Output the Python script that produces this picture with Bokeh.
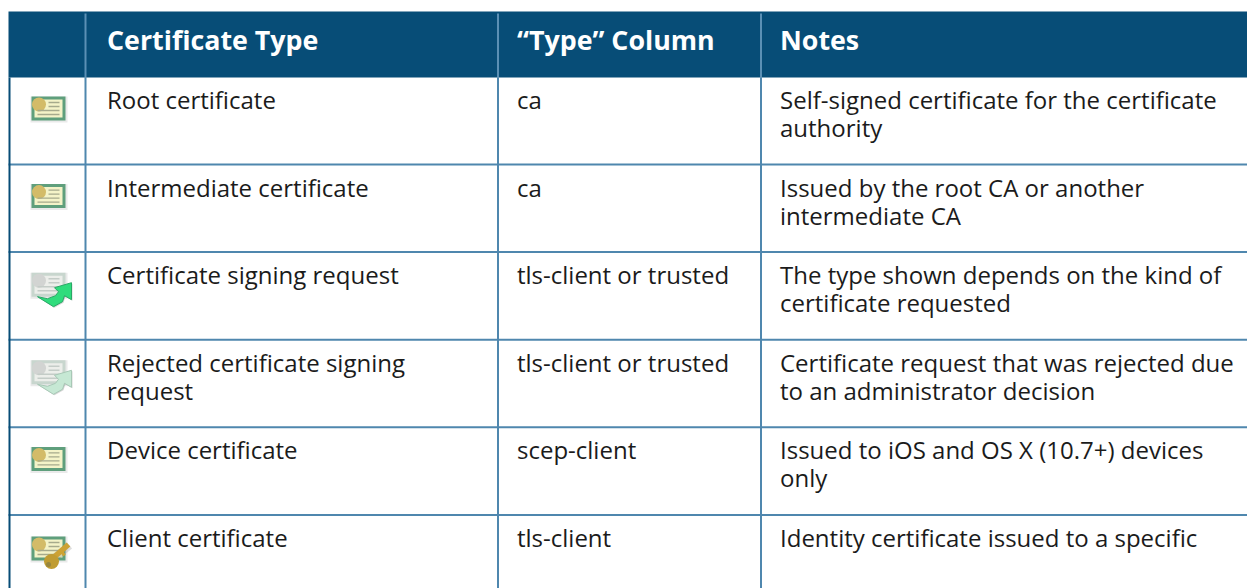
from bokeh.plotting import figure
from bokeh.embed import file_html
from bokeh.resources import INLINE
from bokeh.models import Range1d
from bokeh.core.properties import value

# ---- table content ----
headers = ["Certificate Type", "“Type” Column", "Notes"]
cert_types = [
    ["Root certificate"],
    ["Intermediate certificate"],
    ["Certificate signing request"],
    ["Rejected certificate signing", "request"],
    ["Device certificate"],
    ["Client certificate"],
]
type_column = ["ca", "ca", "tls-client or trusted", "tls-client or trusted", "scep-client", "tls-client"]
notes = [
    ["Self-signed certificate for the certificate", "authority"],
    ["Issued by the root CA or another", "intermediate CA"],
    ["The type shown depends on the kind of", "certificate requested"],
    ["Certificate request that was rejected due", "to an administrator decision"],
    ["Issued to iOS and OS X (10.7+) devices", "only"],
    ["Identity certificate issued to a specific"],
]
icons = ["cert", "cert", "request", "rejected", "cert", "client"]

# ---- layout (page pixels) ----
W, H = 1247, 588
LEFT, RIGHT = 8, 1247
HEAD_TOP, HEAD_BOTTOM = 11, 77
ROW_STEP = 87.6
COL_LINES = [85, 497.5, 760.5]
TEXT_X = [106.5, 516.5, 779.5]
FONT = value("Open Sans")
HEAD = "#074d77"
RULE = "#4f87ae"
INK = "#1b1b1b"

p = figure(width=W, height=H, x_range=Range1d(0, W), y_range=Range1d(H, 0),
           x_axis_type=None, y_axis_type=None, toolbar_location=None, output_backend="svg",
           min_border=0, outline_line_color=None, background_fill_color="white",
           border_fill_color="white")
p.grid.visible = False

# header band and rules
p.quad(left=[LEFT], right=[RIGHT], top=[HEAD_TOP], bottom=[HEAD_BOTTOM], fill_color=HEAD, line_color=None)
n_rows = len(cert_types)
for r in range(1, n_rows):
    y = HEAD_BOTTOM + ROW_STEP * r - 0.6
    p.segment([LEFT], [y], [RIGHT], [y], line_color=RULE, line_width=2)
for x in COL_LINES:
    p.segment([x], [HEAD_BOTTOM], [x], [H], line_color=RULE, line_width=2)
    p.segment([x], [HEAD_TOP + 2], [x], [HEAD_BOTTOM], line_color="#5b90b5", line_width=2)
p.segment([9], [HEAD_BOTTOM], [9], [H], line_color=HEAD, line_width=2)

# header texts
p.text(x=TEXT_X, y=[39] * 3, text=headers, text_font=FONT, text_font_size="26.8px", text_font_style="bold",
       text_color="white", text_baseline="alphabetic")

# body texts
FIRST_BASE = 22
LINE_STEP = 28
xs, ys, ts = [], [], []
for r in range(n_rows):
    top = HEAD_BOTTOM + ROW_STEP * r
    for col, lines in enumerate([cert_types[r], [type_column[r]], notes[r]]):
        for i, t in enumerate(lines):
            xs.append(TEXT_X[col]); ys.append(top + FIRST_BASE + i * LINE_STEP); ts.append(t)
p.text(x=xs, y=ys, text=ts, text_font=FONT, text_font_size="24px", text_color=INK, text_baseline="alphabetic")


# ---- icons (local drawing units relative to the icon origin) ----
def card(ox, oy, pale=False):
    edge = "#c8d6ce" if pale else "#5f9f7c"
    paper = "#eceeea" if pale else "#f4f3c8"
    seal = "#d2d4d2" if pale else "#d3bb68"
    ink = "#c4ccc7" if pale else "#a6aa8c"
    p.quad(left=[ox - 1], right=[ox + 36], top=[oy], bottom=[oy + 26], fill_color="#888888",
           fill_alpha=0.18, line_color=None)
    p.quad(left=[ox], right=[ox + 34], top=[oy], bottom=[oy + 24], fill_color=edge, line_color=None)
    p.quad(left=[ox + 3], right=[ox + 31], top=[oy + 3], bottom=[oy + 21], fill_color=paper, line_color=None)
    p.circle(x=[ox + 7.5], y=[oy + 8], radius=7, fill_color=seal, line_color=None)
    for dy, a, b in [(6, 17, 28), (10, 17, 28), (14, 6, 28), (18, 6, 28)]:
        p.segment([ox + a], [oy + dy], [ox + b], [oy + dy], line_color=ink, line_width=1.4)


def arrow(ox, oy, fill, shade):
    px = [6, 22, 31, 33, 40, 40, 23, 27, 24, 16]
    py = [24, 34, 29, 23, 27, 10, 15, 19, 23, 26]
    p.patch([ox + a + 1 for a in px], [oy + b + 1 for b in py], fill_color="#777777", fill_alpha=0.3, line_color=None)
    p.patch([ox + a for a in px], [oy + b for b in py], fill_color=fill, line_color=shade, line_width=1)


def key(ox, oy):
    p.segment([ox + 21], [oy + 23], [ox + 38], [oy + 9], line_color="#777777", line_alpha=0.25, line_width=8)
    p.segment([ox + 21], [oy + 22], [ox + 37], [oy + 8], line_color="#cda233", line_width=5.5)
    p.circle(x=[ox + 20], y=[oy + 25], radius=7.5, fill_color="#c09c32", line_color=None)
    p.circle(x=[ox + 17], y=[oy + 28], radius=2.5, fill_color="#97863f", line_color=None)
    p.segment([ox + 30], [oy + 15], [ox + 33], [oy + 19], line_color="#cda233", line_width=3)


ICON_X = 31
for r, kind in enumerate(icons):
    top = HEAD_BOTTOM + ROW_STEP * r
    oy = top + (21 if kind == "client" else 19 if kind == "cert" else 20)
    if kind == "cert":
        card(ICON_X, oy)
    elif kind == "client":
        card(ICON_X, oy)
        key(ICON_X, oy)
    elif kind == "request":
        card(ICON_X, oy, pale=True)
        arrow(ICON_X, oy, "#2fdc7c", "#29a866")
    else:
        card(ICON_X, oy, pale=True)
        arrow(ICON_X, oy, "#c6e8d4", "#a8c8b6")

open("out.html", "w").write(file_html(p, INLINE))
